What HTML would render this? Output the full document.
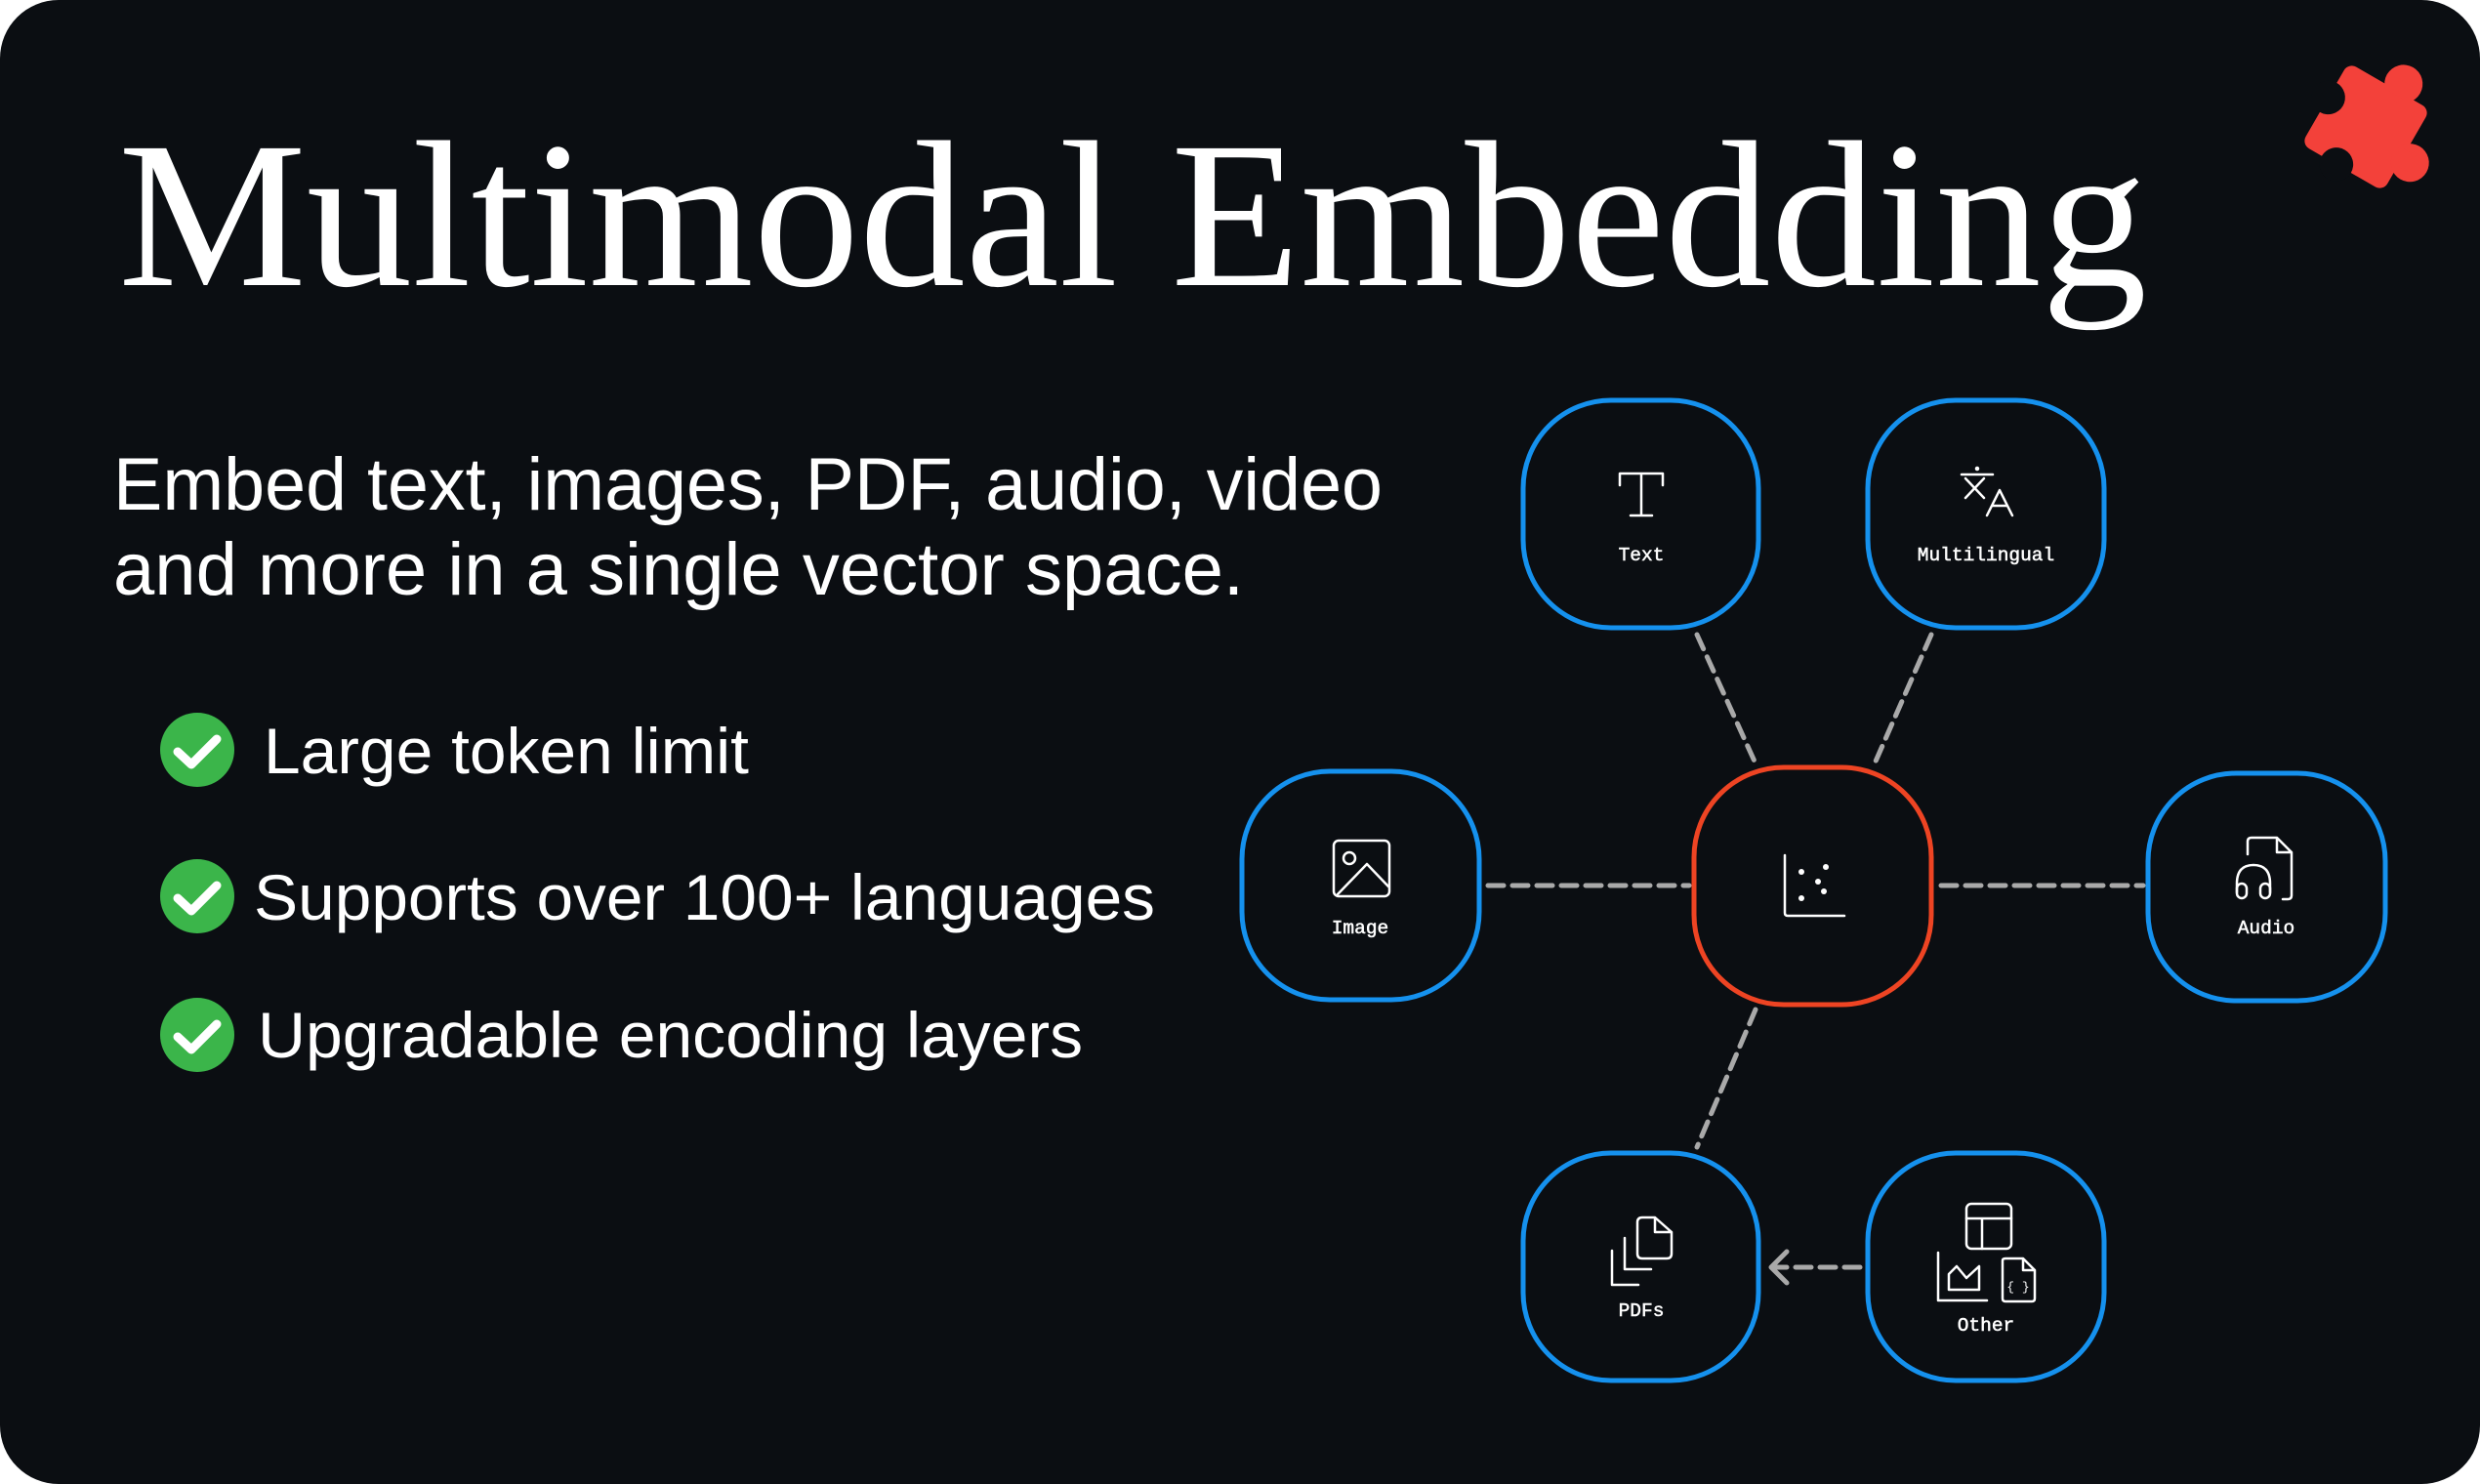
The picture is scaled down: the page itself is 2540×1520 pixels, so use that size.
<!DOCTYPE html>
<html><head><meta charset="utf-8"><style>
html,body{margin:0;padding:0;background:#fff;}
svg{display:block}
</style></head><body>
<svg width="2540" height="1520" viewBox="0 0 2540 1520" xmlns="http://www.w3.org/2000/svg">
<rect x="0" y="0" width="2540" height="1520" rx="60" fill="#0b0e12"/>
<!-- puzzle -->
<g transform="translate(2423,130) rotate(30) scale(1.15)" fill="#f3413a">
  <rect x="-42" y="-42" width="84" height="84" rx="8"/>
  <circle cx="10" cy="-50" r="17"/>
  <rect x="2" y="-52" width="16" height="14"/>
  <circle cx="50" cy="8" r="17"/>
  <rect x="38" y="0" width="14" height="16"/>
  <circle cx="-42" cy="-6" r="15" fill="#0b0e12"/>
  <circle cx="-6" cy="42" r="15" fill="#0b0e12"/>
</g>
<!-- title -->
<text x="121" y="292" font-family="Liberation Serif, serif" font-size="214" fill="#fff" textLength="2078" lengthAdjust="spacingAndGlyphs">Multimodal Embedding</text>
<!-- subtitle -->
<g font-family="Liberation Sans, sans-serif" fill="#fff">
<text x="116" y="522" font-size="76" textLength="1300" lengthAdjust="spacingAndGlyphs">Embed text, images, PDF, audio, video</text>
<text x="116" y="609" font-size="76" textLength="1158" lengthAdjust="spacingAndGlyphs">and more in a single vector space.</text>
<text x="270" y="792" font-size="66" textLength="497" lengthAdjust="spacingAndGlyphs">Large token limit</text>
<text x="260" y="942" font-size="66" textLength="923" lengthAdjust="spacingAndGlyphs">Supports over 100+ languages</text>
<text x="264" y="1083" font-size="66" textLength="845" lengthAdjust="spacingAndGlyphs">Upgradable encoding layers</text>
</g>
<!-- checks -->
<g>
<circle cx="202" cy="768" r="38" fill="#3bb54a"/>
<circle cx="202" cy="918" r="38" fill="#3bb54a"/>
<circle cx="202" cy="1060" r="38" fill="#3bb54a"/>
<g fill="none" stroke="#fff" stroke-width="9" stroke-linecap="round" stroke-linejoin="round">
<polyline points="182,770 196,783 222,757"/>
<polyline points="182,920 196,933 222,907"/>
<polyline points="182,1062 196,1075 222,1049"/>
</g>
</g>
<!-- connectors -->
<g stroke="#a9a9a9" stroke-width="5" stroke-dasharray="16 9" fill="none" stroke-linecap="round">
<line x1="1738" y1="650" x2="1798" y2="782"/>
<line x1="1978" y1="650" x2="1920" y2="782"/>
<line x1="1524" y1="907" x2="1730" y2="907"/>
<line x1="1988" y1="907" x2="2195" y2="907"/>
<line x1="1798" y1="1034" x2="1738" y2="1175"/>
<line x1="1905" y1="1298" x2="1816" y2="1298"/>
</g>
<polyline points="1830,1282 1814,1298 1830,1314" fill="none" stroke="#a9a9a9" stroke-width="5" stroke-linecap="round" stroke-linejoin="round"/>
<!-- nodes -->
<g fill="#0b0e12" stroke="#1591ee" stroke-width="5">
<rect x="1560" y="410" width="241" height="233" rx="90"/>
<rect x="1913" y="410" width="242" height="233" rx="90"/>
<rect x="1272" y="790" width="243" height="234" rx="90"/>
<rect x="2200" y="792" width="243" height="233" rx="90"/>
<rect x="1560" y="1181" width="241" height="233" rx="90"/>
<rect x="1913" y="1181" width="242" height="233" rx="90"/>
</g>
<rect x="1735" y="786" width="243" height="243" rx="92" fill="#0b0e12" stroke="#ee4423" stroke-width="5"/>
<!-- labels -->
<g font-family="Liberation Mono, monospace" font-size="19.5" fill="#fff" text-anchor="middle" stroke="#fff" stroke-width="0.5">
<text x="1681" y="574">Text</text>
<text x="2034" y="574">Multilingual</text>
<text x="1393" y="956">Image</text>
<text x="2321" y="956">Audio</text>
<text x="1681" y="1348">PDFs</text>
<text x="2034" y="1363">Other</text>
</g>
<!-- icons -->
<g fill="none" stroke="#fff" stroke-width="2.5" stroke-linecap="round" stroke-linejoin="round">
<!-- T -->
<path d="M1659,497 V485 H1703 V497 M1681,485 V528 M1670,528 H1692"/>
<!-- translate -->
<path d="M2009,486 H2041 M2013,490 L2032,510 M2032,490 L2013,510 M2035,528 L2048,502 L2061,528 M2041,518 H2055"/>
<circle cx="2025" cy="480" r="1" fill="#fff"/>
<!-- image -->
<rect x="1366" y="861" width="57" height="57" rx="5"/>
<circle cx="1382" cy="879" r="6"/>
<path d="M1370,916 L1400,885 L1422,908"/>
<!-- scatter -->
<path d="M1828,876 V935 Q1828,938 1831,938 H1889"/>
<g fill="#fff" stroke="none">
<circle cx="1845" cy="893" r="3"/><circle cx="1862" cy="903" r="3"/><circle cx="1870" cy="888" r="3"/><circle cx="1845" cy="920" r="3"/><circle cx="1868" cy="913" r="3"/>
</g>
<!-- audio -->
<path d="M2302,875 V862 Q2302,858 2306,858 H2332 L2347,873 V917 Q2347,921 2343,921 H2338 M2332,858 V873 H2347"/>
<path d="M2291,914 V905 Q2291,886 2308,886 Q2325,886 2325,905 V914"/>
<rect x="2291" y="905" width="10" height="15" rx="5"/>
<rect x="2315" y="905" width="10" height="15" rx="5"/>
<!-- pdfs -->
<path d="M1677,1252 Q1677,1247 1682,1247 H1695 L1712,1262 V1284 Q1712,1289 1707,1289 H1682 Q1677,1289 1677,1284 Z M1695,1247 V1262 H1712"/>
<path d="M1664,1268 V1300 H1691"/>
<path d="M1651,1281 V1316 H1678"/>
<!-- other -->
<rect x="2014" y="1233" width="46" height="46" rx="5"/>
<path d="M2014,1248 H2060 M2030,1248 V1279"/>
<path d="M1985,1283 V1332 H2035"/>
<path d="M1996,1321 V1305 L2004,1297 L2014,1309 L2027,1297 V1321 Z"/>
<path d="M2051,1291 Q2051,1289 2054,1289 H2072 L2084,1301 V1330 Q2084,1333 2081,1333 H2054 Q2051,1333 2051,1330 Z M2072,1289 V1301 H2084"/>
</g>
<text x="2067" y="1322" font-family="Liberation Mono, monospace" font-size="13" fill="#fff" text-anchor="middle">{ }</text>
</svg>
</body></html>
